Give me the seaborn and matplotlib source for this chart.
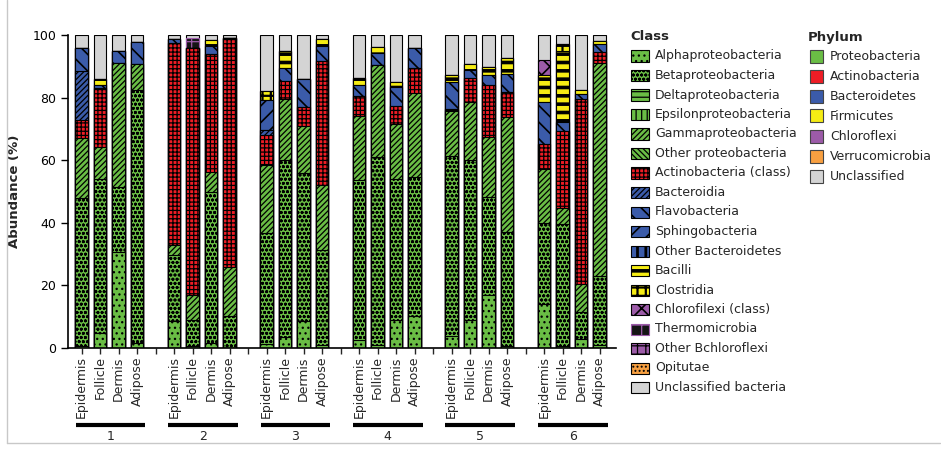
"""Stacked bar chart of bacterial class abundance per skin layer and subject."""

import matplotlib

matplotlib.use("Agg")
import matplotlib.pyplot as plt
import numpy as np
import pandas as pd
import seaborn as sns
from matplotlib.lines import Line2D
from matplotlib.patches import Rectangle

W, H = 941, 450

TISSUES = ["Epidermis", "Follicle", "Dermis", "Adipose"]
SUBJECTS = ["1", "2", "3", "4", "5", "6"]

CLASS_NAMES = [
    "Alphaproteobacteria", "Betaproteobacteria", "Deltaproteobacteria",
    "Epsilonproteobacteria", "Gammaproteobacteria", "Other proteobacteria",
    "Actinobacteria (class)", "Bacteroidia", "Flavobacteria", "Sphingobacteria",
    "Other Bacteroidetes", "Bacilli", "Clostridia", "Chlorofilexi (class)",
    "Thermomicrobia", "Other Bchloroflexi", "Opitutae", "Unclassified bacteria",
]
PHYLUM_NAMES = ["Proteobacteria", "Actinobacteria", "Bacteroidetes", "Firmicutes",
                "Chloroflexi", "Verrucomicrobia", "Unclassified"]

# abundance (%) per bar: subject 1..6, each Epidermis/Follicle/Dermis/Adipose
alpha = [0.5, 4.7, 30.8, 1.5,  8.7, 0.5, 1.5, 0.0,  1.3, 3.4, 8.6, 1.0,
         2.5, 0.8, 9.0, 10.3,  3.8, 9.0, 16.9, 0.5,  14.0, 0.5, 2.8, 0.8]
beta = [47.5, 49.3, 20.5, 80.9,  21.0, 8.5, 48.5, 10.2,  35.3, 56.6, 47.2, 30.3,
        51.2, 60.3, 45.0, 44.2,  57.6, 51.0, 31.4, 36.5,  25.8, 39.0, 8.6, 22.2]
delta = [0.0] * 24
epsilon = [0.0] * 24
gamma = [19.2, 10.1, 39.9, 8.2,  3.2, 8.0, 6.3, 15.6,  21.9, 19.5, 15.2, 20.8,
         20.5, 29.3, 17.6, 27.1,  14.3, 18.5, 19.0, 36.7,  17.4, 5.3, 9.0, 68.2]
other_proteo = [0.0] * 24
actino = [5.8, 18.9, 0.0, 0.0,  64.6, 79.0, 37.5, 73.3,  9.5, 5.8, 6.1, 39.6,
          6.3, 0.0, 5.7, 8.0,  0.5, 7.9, 16.7, 8.2,  8.0, 24.6, 59.1, 3.3]
bacteroidia = [15.6, 0.0, 0.0, 0.0,  0.0, 0.0, 0.0, 0.0,  1.6, 0.0, 0.0, 0.0,
               0.0, 0.0, 0.0, 0.0,  0.0, 0.0, 0.0, 0.0,  0.0, 0.0, 0.0, 0.0]
flavo = [7.1, 1.0, 3.8, 7.3,  1.3, 0.0, 2.7, 0.0,  0.0, 4.3, 8.9, 4.9,
         3.5, 3.7, 6.2, 6.3,  8.7, 2.4, 3.2, 5.5,  13.3, 2.7, 1.5, 2.5]
sphingo = [0.0, 0.0, 0.0, 0.0,  0.0, 0.0, 0.0, 0.0,  9.6, 0.0, 0.0, 0.0,
           0.0, 0.0, 0.0, 0.0,  0.0, 0.0, 0.0, 0.0,  0.0, 0.0, 0.0, 0.0]
other_bact = [0.0] * 24
bacilli = [0.0, 1.8, 0.0, 0.0,  0.0, 0.0, 1.9, 0.0,  0.0, 5.3, 0.0, 2.1,
           2.2, 2.2, 1.4, 0.0,  2.3, 1.8, 2.7, 5.1,  8.7, 22.8, 1.4, 1.0]
clostridia = [0.0, 0.0, 0.0, 0.0,  0.0, 0.0, 0.0, 0.0,  3.0, 0.0, 0.0, 0.0,
              0.0, 0.0, 0.0, 0.0,  0.0, 0.0, 0.0, 0.0,  0.0, 2.1, 0.0, 0.0]
chloroflexi = [0.0] * 20 + [4.8, 0.0, 0.0, 0.0]
thermo = [0.0, 0.0, 0.0, 0.0,  0.0, 3.0, 0.0, 0.0] + [0.0] * 16
other_bchloro = [0.0] * 24
opitutae = [0.0] * 24
unclassified = [4.3, 14.2, 5.0, 2.1,  1.2, 1.0, 1.6, 0.9,  17.8, 5.1, 14.0, 1.3,
                13.8, 3.7, 15.1, 4.1,  12.8, 9.4, 10.1, 7.5,  8.0, 3.0, 17.6, 2.0]

CLASS_VALUES = [alpha, beta, delta, epsilon, gamma, other_proteo, actino,
                bacteroidia, flavo, sphingo, other_bact, bacilli, clostridia,
                chloroflexi, thermo, other_bchloro, opitutae, unclassified]

GREEN, RED, BLUE = "#6abd45", "#ee1d25", "#3b5ba9"
YELLOW, PURPLE, ORANGE, GREY = "#f5ec14", "#9c5ba8", "#f8a041", "#d4d4d4"
PHYLUM_COLORS = [GREEN, RED, BLUE, YELLOW, PURPLE, ORANGE, GREY]

# (facecolor, hatch, hatch/edge colour, hatch linewidth)
STYLES = [
    (GREEN, "...", "black", 0.9), (GREEN, "oooo", "black", 0.9),
    (GREEN, "---", "black", 0.9), (GREEN, "|||", "black", 0.9),
    (GREEN, "//////", "black", 0.9), (GREEN, "\\\\\\\\\\\\", "black", 0.9),
    (RED, "++++", "black", 0.9), (BLUE, "//////", "black", 0.9),
    (BLUE, "\\\\", "black", 1.2), (BLUE, "//", "black", 1.2),
    (BLUE, "||", "black", 2.0), (YELLOW, "--", "black", 2.6),
    (YELLOW, "++", "black", 1.6), (PURPLE, "xx", "black", 1.2),
    ("#151515", "+", PURPLE, 0.9), (PURPLE, "++", "black", 0.9),
    (ORANGE, "....", "black", 0.9), (GREY, "", "black", 0.9),
]


def px(x, y):
    return x / W, 1 - y / H


def set_hatch_width(patch, lw):
    if hasattr(patch, "set_hatch_linewidth"):
        patch.set_hatch_linewidth(lw)


def main() -> None:
    sns.set_style("ticks")
    plt.rcParams["font.family"] = ["DejaVu Sans"]
    plt.rcParams["hatch.linewidth"] = 0.9

    slots = [g * 5 + t for g in range(len(SUBJECTS)) for t in range(len(TISSUES))]
    fig = plt.figure(figsize=(W / 100, H / 100), dpi=100)
    ax = fig.add_axes([68 / W, 1 - 348 / H, (616 - 68) / W, 313 / H])

    values = np.array(CLASS_VALUES)
    cumulative = np.cumsum(values, axis=0)
    # draw from the top class down, each bar from zero, so lower classes cover
    for k in range(len(CLASS_NAMES) - 1, -1, -1):
        if values[k].sum() == 0:
            continue
        face, hatch, edge, hlw = STYLES[k]
        df = pd.DataFrame({"slot": slots, "top": cumulative[k]})
        n_before = len(ax.patches)
        sns.barplot(data=df, x="slot", y="top", native_scale=True, errorbar=None,
                    color=face, saturation=1, width=0.68, hatch=hatch,
                    edgecolor=edge, linewidth=0.8, ax=ax)
        for patch in ax.patches[n_before:]:
            set_hatch_width(patch, hlw)

    ax.set_xlim(-0.74, 28.89)
    ax.set_ylim(0, 100)
    ax.set_yticks(range(0, 101, 20))
    ax.tick_params(axis="y", labelsize=9, length=5, width=1, colors="black")
    ax.set_xticks(range(29))
    labels = [""] * 29
    for s, name in zip(slots, TISSUES * len(SUBJECTS)):
        labels[s] = name
    ax.set_xticklabels(labels, rotation=90, fontsize=9)
    ax.tick_params(axis="x", length=4, width=1, pad=2)
    ax.set_xlabel("")
    ax.set_ylabel("Abundance (%)", fontsize=9.5, fontweight="bold", labelpad=8)
    sns.despine(ax=ax)
    for side in ["left", "bottom"]:
        ax.spines[side].set_color("black")
        ax.spines[side].set_linewidth(1.2)

    tr = ax.get_xaxis_transform()
    for g, subject in enumerate(SUBJECTS):
        start = g * 5
        ax.plot([start - 0.33, start + 3.45], [-0.246, -0.246], color="black",
                lw=3, transform=tr, clip_on=False, solid_capstyle="butt")
        ax.text(start + 1.55, -0.284, subject, transform=tr, ha="center",
                va="center", fontsize=9)

    # class legend
    fig.text(*px(630, 37), "Class", fontsize=9.5, fontweight="bold", va="center")
    for i, name in enumerate(CLASS_NAMES):
        cy = 56 + i * 19.5
        face, hatch, edge, hlw = STYLES[i]
        x0, y0 = px(631, cy + 5.5)
        rect = Rectangle((x0, y0), 18 / W, 11 / H, transform=fig.transFigure,
                         facecolor=face, hatch=hatch, edgecolor=edge, lw=0.8)
        set_hatch_width(rect, hlw)
        fig.add_artist(rect)
        fig.text(*px(655, cy), name, fontsize=9, va="center")

    # phylum legend
    fig.text(*px(808, 37), "Phylum", fontsize=9.5, fontweight="bold", va="center")
    for i, (name, color) in enumerate(zip(PHYLUM_NAMES, PHYLUM_COLORS)):
        cy = 56 + i * 20
        x0, y0 = px(810, cy + 6.5)
        fig.add_artist(Rectangle((x0, y0), 13 / W, 13 / H, transform=fig.transFigure,
                                 facecolor=color, edgecolor="#444444", lw=0.8))
        fig.text(*px(830, cy), name, fontsize=9, va="center")

    # light frame around the figure
    for xs, ys in [([7, 7], [0, 443]), ([7, 940], [443, 443])]:
        fig.add_artist(Line2D([x / W for x in xs], [1 - y / H for y in ys],
                              color="#c8c8c8", lw=1, transform=fig.transFigure))

    fig.savefig("out.png", dpi=100)
    plt.close(fig)


if __name__ == "__main__":
    main()
